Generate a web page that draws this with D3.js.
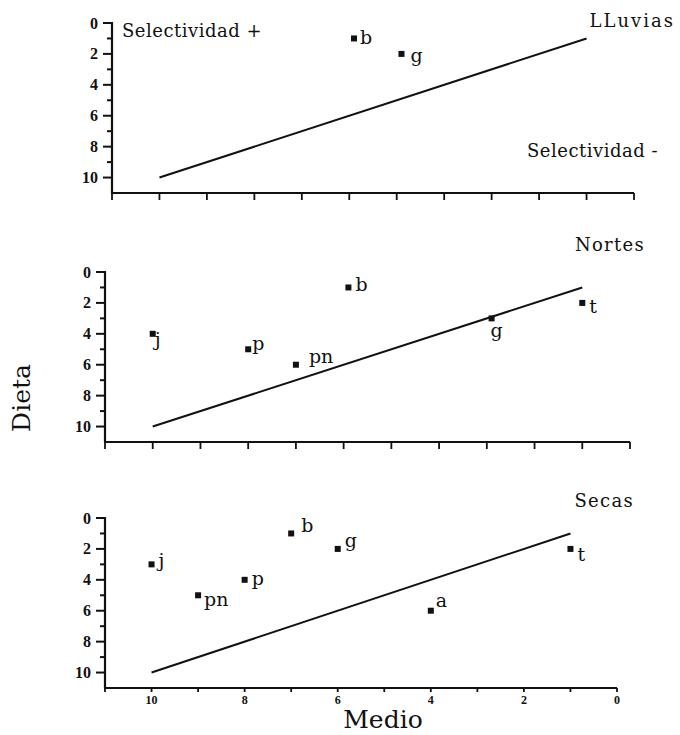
<!DOCTYPE html>
<html>
<head>
<meta charset="utf-8">
<script src="https://cdn.jsdelivr.net/npm/d3@7"></script>
<style>
  body { margin: 0; background: #fff; }
  text { font-family: "DejaVu Serif", serif; fill: #111; }
</style>
</head>
<body>
<svg id="chart" width="680" height="735"></svg>
<script>
// ---- data ----
const seasons = ["LLuvias", "Nortes", "Secas"];

const lluviasIds   = ["b", "g"];
const lluviasMedio = [5.9, 4.9];
const lluviasDieta = [1, 2];

const nortesIds   = ["b", "j", "p", "pn", "g", "t"];
const nortesMedio = [5.9, 10, 8, 7, 2.9, 1];
const nortesDieta = [1, 4, 5, 6, 3, 2];

const secasIds   = ["j", "pn", "p", "b", "g", "a", "t"];
const secasMedio = [10, 9, 8, 7, 6, 4, 1];
const secasDieta = [3, 5, 4, 1, 2, 6, 2];

// reference diagonal (equal Dieta and Medio ranks)
const refMedio = [10, 1];
const refDieta = [10, 1];

const yTickLabels = [0, 2, 4, 6, 8, 10];
const xTickLabels = [10, 8, 6, 4, 2, 0];
const axisUnits = d3.range(0, 12);

// ---- layout ----
const panelLayout = [
  { left: 112, right: 634, top: 23,  bottom: 193, xLabels: false },
  { left: 105, right: 630, top: 272, bottom: 442, xLabels: false },
  { left: 105, right: 617, top: 518, bottom: 688, xLabels: true }
];
const titleStyle = [
  { x: 675, y: 27,  spacing: 2 },
  { x: 645, y: 251, spacing: 1.3 },
  { x: 634, y: 507, spacing: 1.3 }
];
// label offsets relative to each marker
const labelOffset = {
  "LLuvias-b": [6, 6],  "LLuvias-g": [9, 8],
  "Nortes-b": [7, 4],   "Nortes-j": [2, 12],  "Nortes-p": [4, 1],
  "Nortes-pn": [13, -2], "Nortes-g": [-1, 19], "Nortes-t": [7, 10],
  "Secas-j": [7, 3],    "Secas-pn": [6, 11],  "Secas-p": [7, 5],
  "Secas-b": [10, -1],  "Secas-g": [7, -2],   "Secas-a": [5, -4],
  "Secas-t": [7, 12]
};

const seriesBySeason = [
  { ids: lluviasIds, medio: lluviasMedio, dieta: lluviasDieta },
  { ids: nortesIds,  medio: nortesMedio,  dieta: nortesDieta },
  { ids: secasIds,   medio: secasMedio,   dieta: secasDieta }
];

const svg = d3.select("#chart");

seasons.forEach((season, i) => {
  const L = panelLayout[i];
  const s = seriesBySeason[i];
  const x = d3.scaleLinear().domain([11, 0]).range([L.left, L.right]);
  const y = d3.scaleLinear().domain([0, 11]).range([L.top, L.bottom]);
  const g = svg.append("g");

  // y axis: line, ticks at every unit (longer on even values), even labels
  g.append("line")
    .attr("x1", L.left).attr("x2", L.left)
    .attr("y1", y(0) - 1).attr("y2", y(11))
    .attr("stroke", "#111").attr("stroke-width", 2.2);
  g.selectAll(".yt").data(axisUnits.slice(0, 11)).join("line")
    .attr("x1", L.left).attr("x2", d => L.left - (d % 2 === 0 ? 9 : 5))
    .attr("y1", d => y(d)).attr("y2", d => y(d))
    .attr("stroke", "#111").attr("stroke-width", 2);
  g.selectAll(".yl").data(yTickLabels).join("text")
    .attr("x", L.left - 14).attr("y", d => y(d) + 5.5)
    .attr("text-anchor", "end")
    .style("font-family", "'Liberation Serif', serif")
    .style("font-weight", "bold").style("font-size", "16px")
    .text(d => d);

  // x axis
  g.append("line")
    .attr("x1", L.left - 1).attr("x2", L.right)
    .attr("y1", L.bottom).attr("y2", L.bottom)
    .attr("stroke", "#111").attr("stroke-width", 2.2);
  g.selectAll(".xt").data(axisUnits).join("line")
    .attr("x1", d => x(d)).attr("x2", d => x(d))
    .attr("y1", L.bottom).attr("y2", L.bottom + (L.xLabels ? 4 : 7))
    .attr("stroke", "#111").attr("stroke-width", 1.8);
  if (L.xLabels) {
    g.selectAll(".xl").data(xTickLabels).join("text")
      .attr("x", d => x(d)).attr("y", L.bottom + 16)
      .attr("text-anchor", "middle")
      .style("font-family", "'Liberation Serif', serif")
      .style("font-weight", "bold").style("font-size", "12px")
      .text(d => d);
  }

  // diagonal reference line
  const line = d3.line().x(d => x(d[0])).y(d => y(d[1]));
  g.append("path")
    .datum(refMedio.map((m, k) => [m, refDieta[k]]))
    .attr("d", line)
    .attr("fill", "none").attr("stroke", "#111").attr("stroke-width", 2);

  // points with labels
  const pts = s.ids.map((id, k) => ({ id, medio: s.medio[k], dieta: s.dieta[k] }));
  g.selectAll(".pt").data(pts).join("rect")
    .attr("x", d => x(d.medio) - 3).attr("y", d => y(d.dieta) - 3)
    .attr("width", 6).attr("height", 6).attr("fill", "#111");
  g.selectAll(".pl").data(pts).join("text")
    .attr("x", d => x(d.medio) + labelOffset[season + "-" + d.id][0])
    .attr("y", d => y(d.dieta) + labelOffset[season + "-" + d.id][1])
    .style("font-size", "19px")
    .text(d => d.id);

  // season title
  g.append("text")
    .attr("x", titleStyle[i].x).attr("y", titleStyle[i].y)
    .attr("text-anchor", "end").style("font-size", "18px")
    .style("letter-spacing", titleStyle[i].spacing + "px")
    .text(season);
});

// selectivity notes in the first panel
svg.append("text").attr("x", 122).attr("y", 37)
  .style("font-size", "18px").style("letter-spacing", "0.5px")
  .text("Selectividad +");
svg.append("text").attr("x", 658).attr("y", 157)
  .attr("text-anchor", "end").style("font-size", "18px")
  .style("letter-spacing", "0.5px").text("Selectividad -");

// axis titles
svg.append("text").attr("x", 383).attr("y", 728)
  .attr("text-anchor", "middle").style("font-size", "25px").text("Medio");
svg.append("text")
  .attr("transform", "translate(30,398) rotate(-90)")
  .attr("text-anchor", "middle").style("font-size", "25px").text("Dieta");
</script>
</body>
</html>
